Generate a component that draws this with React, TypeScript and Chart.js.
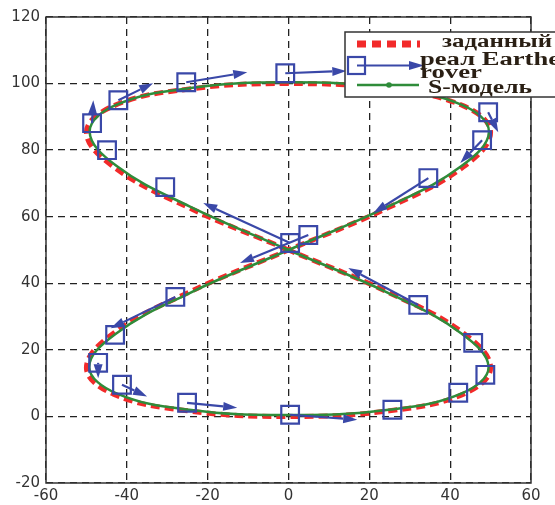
import React, { useEffect, useRef } from "react";
import { Chart, registerables } from "chart.js";
Chart.register(...registerables);

const xTickLabels = ["-60", "-40", "-20", "0", "20", "40", "60"];
const yTickLabels = ["-20", "0", "20", "40", "60", "80", "100", "120"];

// заданный (reference path)
const refX = [0, -25, -43.3, -50, -43.3, -25, 0, 25, 43.3, 50, 43.3, 25, 0, -25, -43.3, -50, -43.3, -25, 0, 25, 43.3, 50, 43.3, 25, 0];
const refY = [50, 62.9, 75, 85.4, 93.3, 98.3, 100, 98.3, 93.3, 85.4, 75, 62.9, 50, 37.1, 25, 14.6, 6.7, 1.7, 0, 1.7, 6.7, 14.6, 25, 37.1, 50];

// S-модель
const modelX = [0, -24.5, -42.6, -49.2, -42.8, -24.7, 0.3, 24.8, 42.9, 49.6, 42.8, 24.6, 0, -24.6, -42.8, -49.3, -42.7, -24.6, 0.2, 24.8, 43, 49.5, 42.7, 24.5, 0];
const modelY = [50, 63.1, 75.3, 85.6, 93.5, 98.6, 100.4, 98.6, 93.6, 85.6, 75.2, 63.0, 50, 37.0, 24.8, 14.8, 7.0, 2.0, 0.4, 2.0, 7.0, 14.8, 25.0, 37.2, 50];

// реал Earthe rover (sampled positions)
const roverX = [0.4, -30.5, -44.9, -48.6, -42.1, -25.3, -0.8, 25.5, 49.4, 47.9, 34.6, 4.9, -28.0, -42.9, -47.1, -41.2, -25.1, 0.4, 25.7, 42.0, 48.7, 45.7, 32.1];
const roverY = [52.1, 68.9, 80.0, 88.1, 95.0, 100.4, 103.1, 100.5, 91.4, 83.0, 71.6, 54.5, 35.9, 24.5, 16.1, 9.5, 4.1, 0.5, 2.0, 7.1, 12.5, 22.1, 33.5];

// rover heading arrows
const arrowFromX = [0.4, -48.6, -42.1, -25.3, -0.8, 49.4, 47.9, 34.6, 4.9, -28.0, -47.1, -41.2, -25.1, 0.4, 32.1];
const arrowFromY = [52.1, 88.1, 95.0, 100.4, 103.1, 91.4, 83.0, 71.6, 54.5, 35.9, 16.1, 9.5, 4.1, 0.5, 33.5];
const arrowToX = [-21.1, -48.3, -33.5, -10.2, 14.3, 51.9, 42.5, 21.0, -12.0, -44.0, -47.1, -35.0, -12.7, 17.0, 14.8];
const arrowToY = [64.1, 95.0, 100.1, 103.4, 103.8, 85.4, 76.1, 61.1, 46.1, 26.5, 11.5, 6.0, 2.6, -1.0, 44.6];

const RED = "#f22a2a";
const GREEN = "#2f8c3a";
const BLUE = "#3a48a8";
const TEXT = "#2a1f14";

const pts = (xs: number[], ys: number[]) => xs.map((x, i) => ({ x, y: ys[i] }));

function drawArrow(ctx: CanvasRenderingContext2D, x1: number, y1: number, x2: number, y2: number, head: number, half: number) {
  const a = Math.atan2(y2 - y1, x2 - x1);
  const bx = x2 - head * Math.cos(a);
  const by = y2 - head * Math.sin(a);
  ctx.beginPath();
  ctx.moveTo(x1, y1);
  ctx.lineTo(bx, by);
  ctx.stroke();
  ctx.beginPath();
  ctx.moveTo(x2, y2);
  ctx.lineTo(bx + half * Math.sin(a), by - half * Math.cos(a));
  ctx.lineTo(bx - half * Math.sin(a), by + half * Math.cos(a));
  ctx.closePath();
  ctx.fill();
}

function fitText(ctx: CanvasRenderingContext2D, text: string, x: number, y: number, width: number) {
  const w = ctx.measureText(text).width;
  ctx.save();
  ctx.translate(x, y);
  ctx.scale(width / w, 1);
  ctx.fillText(text, 0, 0);
  ctx.restore();
}

const framePlugin = {
  id: "frame",
  beforeDatasetsDraw(chart: any) {
    const { ctx, chartArea: a } = chart;
    ctx.save();
    ctx.strokeStyle = "#333";
    ctx.lineWidth = 1.5;
    ctx.strokeRect(a.left, a.top, a.right - a.left, a.bottom - a.top);
    ctx.restore();
  },
};

const arrowPlugin = {
  id: "arrows",
  afterDatasetsDraw(chart: any) {
    const { ctx } = chart;
    const xs = chart.scales.x;
    const ys = chart.scales.y;
    ctx.save();
    ctx.strokeStyle = BLUE;
    ctx.fillStyle = BLUE;
    ctx.lineWidth = 2.2;
    for (let i = 0; i < arrowFromX.length; i++) {
      drawArrow(
        ctx,
        xs.getPixelForValue(arrowFromX[i]),
        ys.getPixelForValue(arrowFromY[i]),
        xs.getPixelForValue(arrowToX[i]),
        ys.getPixelForValue(arrowToY[i]),
        14,
        4.5
      );
    }
    ctx.restore();
  },
};

const legendPlugin = {
  id: "customLegend",
  afterDraw(chart: any) {
    const ctx = chart.ctx as CanvasRenderingContext2D;
    ctx.save();
    const L = 345, T = 32, R = 563, B = 97;
    ctx.fillStyle = "#fff";
    ctx.fillRect(L, T, R - L, B - T);
    ctx.strokeStyle = "#333";
    ctx.lineWidth = 1.5;
    ctx.strokeRect(L, T, R - L, B - T);

    // заданный
    ctx.strokeStyle = RED;
    ctx.lineWidth = 7;
    ctx.setLineDash([9, 6]);
    ctx.beginPath();
    ctx.moveTo(357, 44);
    ctx.lineTo(420, 44);
    ctx.stroke();
    ctx.setLineDash([]);

    // rover
    ctx.strokeStyle = BLUE;
    ctx.fillStyle = BLUE;
    ctx.lineWidth = 2.2;
    drawArrow(ctx, 357, 65.5, 424, 65.5, 15, 4.5);
    ctx.strokeRect(348, 57, 17, 17);

    // S-model
    ctx.strokeStyle = GREEN;
    ctx.fillStyle = GREEN;
    ctx.lineWidth = 2.5;
    ctx.beginPath();
    ctx.moveTo(357, 85);
    ctx.lineTo(419, 85);
    ctx.stroke();
    ctx.beginPath();
    ctx.arc(389, 85, 2.8, 0, Math.PI * 2);
    ctx.fill();

    ctx.fillStyle = TEXT;
    ctx.font = "bold 18px 'Liberation Serif', 'DejaVu Serif', serif";
    ctx.textBaseline = "alphabetic";
    ctx.textAlign = "left";
    fitText(ctx, "заданный", 442, 47, 110);
    fitText(ctx, "реал Earthe", 420, 64.5, 140);
    fitText(ctx, "rover", 420, 78, 62);
    fitText(ctx, "S-модель", 428, 92.5, 104);
    ctx.restore();
  },
};

export default function App() {
  const ref = useRef<HTMLCanvasElement | null>(null);

  useEffect(() => {
    if (!ref.current) return;
    const tickFont = { family: "'DejaVu Sans', 'Liberation Sans', sans-serif", size: 15 };
    const chart = new Chart(ref.current, {
      type: "scatter",
      data: {
        datasets: [
          {
            label: "реал Earthe rover",
            data: pts(roverX, roverY),
            showLine: false,
            pointStyle: "rect",
            pointRadius: 12.5,
            pointBorderWidth: 2.2,
            pointBorderColor: BLUE,
            pointBackgroundColor: "rgba(0,0,0,0)",
            order: 0,
          },
          {
            label: "S-модель",
            data: pts(modelX, modelY),
            showLine: true,
            borderColor: GREEN,
            borderWidth: 2.5,
            pointRadius: 0,
            tension: 0.4,
            order: 1,
          },
          {
            label: "заданный",
            data: pts(refX, refY),
            showLine: true,
            borderColor: RED,
            borderWidth: 5,
            borderDash: [9, 5],
            pointRadius: 0,
            tension: 0.4,
            order: 2,
          },
        ],
      },
      options: {
        animation: false,
        responsive: false,
        maintainAspectRatio: false,
        layout: { padding: { top: 17, right: 24, left: 0, bottom: 0 } },
        plugins: { legend: { display: false }, tooltip: { enabled: false } },
        scales: {
          x: {
            type: "linear",
            min: -60,
            max: 60,
            afterFit: (s: any) => {
              s.height = 22;
            },
            ticks: {
              stepSize: 20,
              autoSkip: false,
              maxRotation: 0,
              padding: 4,
              color: "#333",
              font: tickFont,
              callback: (_v: any, i: number) => xTickLabels[i],
            },
            grid: { color: "#222", lineWidth: 1.3, drawTicks: false, tickLength: 0 },
            border: { display: false, dash: [7, 5] },
          },
          y: {
            type: "linear",
            min: -20,
            max: 120,
            afterFit: (s: any) => {
              s.width = 46;
            },
            ticks: {
              stepSize: 20,
              autoSkip: false,
              padding: 6,
              color: "#333",
              font: tickFont,
              callback: (_v: any, i: number) => yTickLabels[i],
            },
            grid: { color: "#222", lineWidth: 1.3, drawTicks: false, tickLength: 0 },
            border: { display: false, dash: [7, 5] },
          },
        },
      },
      plugins: [framePlugin, arrowPlugin, legendPlugin],
    });
    return () => chart.destroy();
  }, []);

  return (
    <div style={{ position: "absolute", left: 0, top: 0, width: 555, height: 505, background: "#fff" }}>
      <canvas ref={ref} width={555} height={505} style={{ width: 555, height: 505, display: "block" }} />
    </div>
  );
}
